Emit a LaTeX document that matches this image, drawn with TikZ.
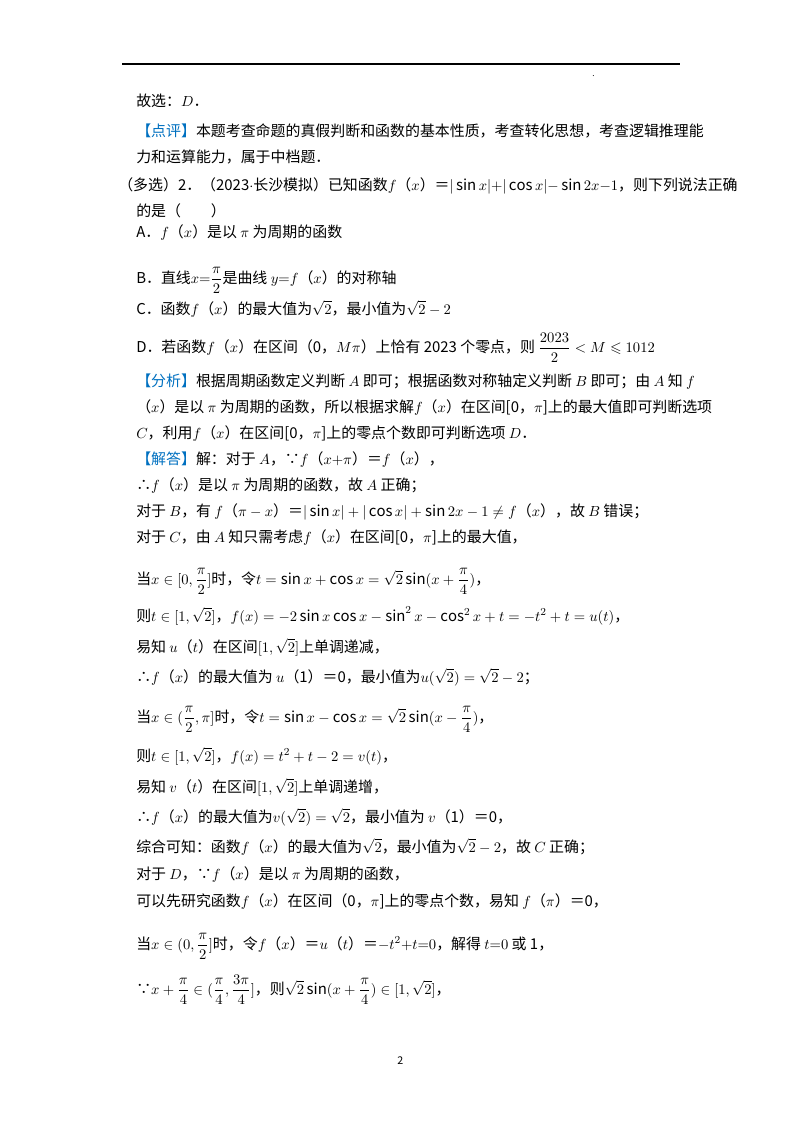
\documentclass[tikz,border=0pt]{standalone}
\usepackage{amsmath,amssymb}
\usepackage{fontspec}
\setmainfont{Noto Sans CJK SC}
\definecolor{hb}{RGB}{0,112,192}
\newcommand{\hl}[1]{\textcolor{hb}{【#1】}}
\newcommand{\fx}{$f$（$x$）}
\begin{document}
\begin{tikzpicture}[x=0.75pt,y=-0.75pt,
  txt/.style={anchor=base west,inner sep=0pt,font=\fontsize{11.2pt}{12pt}\selectfont}]
\useasboundingbox (0,0) rectangle (800,1132);
\draw[line width=0.9pt] (122,64) -- (680,64);
\node[txt,font=\fontsize{6pt}{7pt}\selectfont] (dot) at (592,76) {.};
\node[txt] (l1) at (136,106) {故选：$D$．};
\node[txt] (l2) at (136,136) {\hl{点评}本题考查命题的真假判断和函数的基本性质，考查转化思想，考查逻辑推理能};
\node[txt] (l3) at (136,162) {力和运算能力，属于中档题．};
\node[txt] (l4) at (118,190) {（多选）2．（2023$\cdot$长沙模拟）已知函数\fx＝$|\sin x|{+}|\cos x|{-}\sin 2x{-}1$，则下列说法正确};
\node[txt] (l5) at (136,216) {的是（\quad\quad）};
\node[txt] (l6) at (136,237) {A．\fx 是以 $\pi$ 为周期的函数};
\node[txt] (l7) at (136,283) {B．直线$x{=}\dfrac{\pi}{2}$是曲线 $y{=}f$（$x$）的对称轴};
\node[txt] (l8) at (136,314) {C．函数\fx 的最大值为$\sqrt{2}$，最小值为$\sqrt{2}-2$};
\node[txt] (l9) at (136,352) {D．若函数\fx 在区间（0，$M\pi$）上恰有 2023 个零点，则 $\dfrac{2023}{2}<M\leqslant 1012$};
\node[txt] (l10) at (136,386) {\hl{分析}根据周期函数定义判断 $A$ 即可；根据函数对称轴定义判断 $B$ 即可；由 $A$ 知 $f$};
\node[txt] (l11) at (136,412) {（$x$）是以 $\pi$ 为周期的函数，所以根据求解\fx 在区间[0，$\pi$]上的最大值即可判断选项};
\node[txt] (l12) at (136,438) {$C$，利用\fx 在区间[0，$\pi$]上的零点个数即可判断选项 $D$．};
\node[txt] (l13) at (136,464) {\hl{解答}解：对于 $A$，∵$f$（$x{+}\pi$）＝\fx，};
\node[txt] (l14) at (136,490) {∴\fx 是以 $\pi$ 为周期的函数，故 $A$ 正确；};
\node[txt] (l15) at (136,516) {对于 $B$，有 $f$（$\pi-x$）＝$|\sin x|+|\cos x|+\sin 2x-1\neq f$（$x$），故 $B$ 错误；};
\node[txt] (l16) at (136,542) {对于 $C$，由 $A$ 知只需考虑\fx 在区间[0，$\pi$]上的最大值，};
\node[txt] (l17) at (136,584) {当$x\in[0,\dfrac{\pi}{2}]$时，令$t=\sin x+\cos x=\sqrt2\sin(x+\dfrac{\pi}{4})$，};
\node[txt] (l18) at (136,621) {则$t\in[1,\sqrt2]$，$f(x)=-2\sin x\cos x-\sin^2x-\cos^2x+t=-t^2+t=u(t)$，};
\node[txt] (l19) at (136,652) {易知 $u$（$t$）在区间$[1,\sqrt2]$上单调递减，};
\node[txt] (l20) at (136,682) {∴\fx 的最大值为 $u$（1）＝0，最小值为$u(\sqrt2)=\sqrt2-2$；};
\node[txt] (l21) at (136,722) {当$x\in(\dfrac{\pi}{2},\pi]$时，令$t=\sin x-\cos x=\sqrt2\sin(x-\dfrac{\pi}{4})$，};
\node[txt] (l22) at (136,761) {则$t\in[1,\sqrt2]$，$f(x)=t^2+t-2=v(t)$，};
\node[txt] (l23) at (136,792) {易知 $v$（$t$）在区间$[1,\sqrt2]$上单调递增，};
\node[txt] (l24) at (136,822) {∴\fx 的最大值为$v(\sqrt2)=\sqrt2$，最小值为 $v$（1）＝0，};
\node[txt] (l25) at (136,852) {综合可知：函数\fx 的最大值为$\sqrt2$，最小值为$\sqrt2-2$，故 $C$ 正确；};
\node[txt] (l26) at (136,879) {对于 $D$，∵\fx 是以 $\pi$ 为周期的函数，};
\node[txt] (l27) at (136,906) {可以先研究函数\fx 在区间（0，$\pi$]上的零点个数，易知 $f$（$\pi$）＝0，};
\node[txt] (l28) at (136,949) {当$x\in(0,\dfrac{\pi}{2}]$时，令\fx＝$u$（$t$）＝$-t^2{+}t{=}0$，解得 $t{=}0$ 或 1，};
\node[txt] (l29) at (136,994) {∵$x+\dfrac{\pi}{4}\in(\dfrac{\pi}{4},\dfrac{3\pi}{4}]$，则$\sqrt2\sin(x+\dfrac{\pi}{4})\in[1,\sqrt2]$，};
\node[txt,font=\fontsize{8pt}{9pt}\selectfont] (pg) at (397,1064) {2};
\end{tikzpicture}
\end{document}
